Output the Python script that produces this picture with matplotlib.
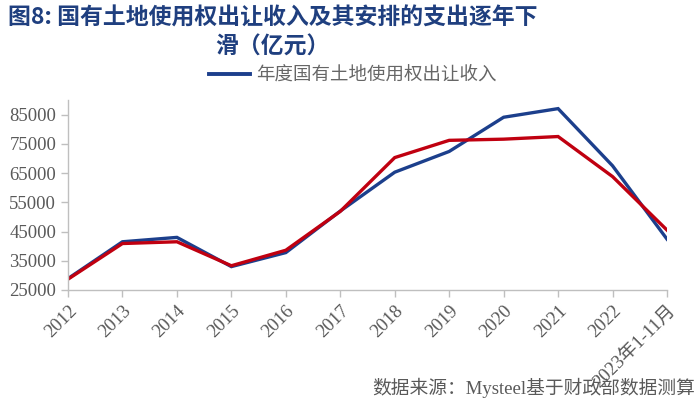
import matplotlib
matplotlib.use("Agg")
import matplotlib.pyplot as plt
from matplotlib.lines import Line2D

categories = ["2012", "2013", "2014", "2015", "2016", "2017", "2018", "2019",
              "2020", "2021", "2022", "2023年1-11月"]
revenue = [28900, 41500, 43000, 33000, 37800, 52000, 65300, 72400,
           84100, 87050, 67500, 42400]
expenditure = [28700, 40900, 41500, 33300, 38600, 51900, 70300, 76200,
               76600, 77500, 63800, 45500]
yticks = [25000, 35000, 45000, 55000, 65000, 75000, 85000]

title_line1 = "图8: 国有土地使用权出让收入及其安排的支出逐年下"
title_line2 = "滑（亿元）"
legend_label = "年度国有土地使用权出让收入"
source = "数据来源：Mysteel基于财政部数据测算"

blue = "#1C3F8C"
red = "#C00010"
title_color = "#1F3F7F"
gray = "#595959"
serif_cjk = ["Liberation Serif", "Noto Sans CJK SC"]

fig = plt.figure(figsize=(7, 4.13), dpi=100)
ax = fig.add_axes([68/700, 1-290/413, (667-68)/700, (290-100)/413])

x = list(range(len(categories)))
lb, = ax.plot(x, revenue, color=blue, lw=2.4, solid_joinstyle='miter')
lr, = ax.plot(x, expenditure, color=red, lw=2.4, solid_joinstyle='miter')

ax.set_xlim(0, len(categories) - 1)
ax.set_ylim(25000, 90000)
ax.set_yticks(yticks)
ax.set_yticklabels([str(v) for v in yticks])
for t in ax.get_yticklabels():
    t.set_fontfamily(["Liberation Serif"])
    t.set_fontsize(13.5)
    t.set_color(gray)
ax.set_xticks(x)
ax.set_xticklabels(categories, rotation=45, ha='right', rotation_mode='anchor',
                   family=serif_cjk, fontsize=13.5, color=gray)
for s in ["top", "right"]:
    ax.spines[s].set_visible(False)
for s in ["left", "bottom"]:
    ax.spines[s].set_color("#BFBFBF")
    ax.spines[s].set_linewidth(1.0)
ax.tick_params(axis='both', color="#BFBFBF", length=5, width=1.0)
ax.tick_params(axis='x', pad=4)

fig.text(8/700, 1-18/413, title_line1, fontsize=16.5, fontweight='bold',
         color=title_color, family=["Noto Sans CJK SC", "DejaVu Sans"],
         va='center', ha='left')
fig.text(215/700, 1-47/413, title_line2, fontsize=16.5, fontweight='bold',
         color=title_color, family=["Noto Sans CJK SC", "DejaVu Sans"],
         va='center', ha='left')

fig.legend(handles=[Line2D([], [], color=blue, lw=2.8)], labels=[legend_label],
           loc='center', bbox_to_anchor=(353/700, 1-75/413), frameon=False,
           handlelength=2.2, handletextpad=0.35,
           prop={'family': ['Noto Sans CJK SC'], 'size': 13.3})
for t in fig.legends[0].get_texts():
    t.set_color("#666666")

fig.text(695/700, 1-388/413, source, fontsize=13.5, color=gray,
         family=serif_cjk, ha='right', va='center')

fig.savefig("out.png", dpi=100)
